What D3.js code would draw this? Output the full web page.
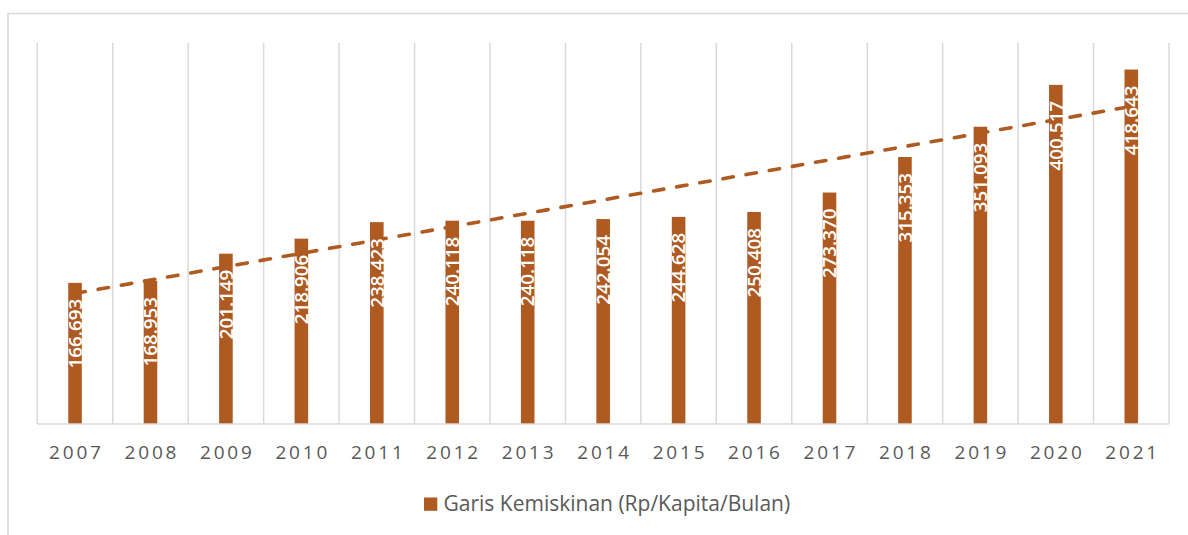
<!DOCTYPE html>
<html>
<head>
<meta charset="utf-8">
<script src="https://cdn.jsdelivr.net/npm/d3@7"></script>
<style>
  html, body { margin: 0; padding: 0; background: #fff; }
  svg { display: block; }
</style>
</head>
<body>
<svg id="chart" width="1188" height="535"></svg>
<script>
const years = ["2007","2008","2009","2010","2011","2012","2013","2014","2015","2016","2017","2018","2019","2020","2021"];
const values = [166.693, 168.953, 201.149, 218.906, 238.423, 240.118, 240.118, 242.054, 244.628, 250.408, 273.370, 315.353, 351.093, 400.517, 418.643];
const valueLabels = ["166.693","168.953","201.149","218.906","238.423","240.118","240.118","242.054","244.628","250.408","273.370","315.353","351.093","400.517","418.643"];
const seriesName = "Garis Kemiskinan (Rp/Kapita/Bulan)";
const yDomain = [0, 450];

const W = 1188, H = 535;
const barColor = "#ae5a21";
const gridColor = "#d9d9d9";
const textColor = "#595959";
const plot = { left: 37.3, right: 1169, top: 43, bottom: 424 };

const svg = d3.select("#chart");

// outer chart frame (extends past the picture at right and bottom)
svg.append("path")
  .attr("d", `M8,${H + 5} L8,13.5 L${W + 5},13.5`)
  .attr("fill", "none")
  .attr("stroke", gridColor)
  .attr("stroke-width", 1.6);

const xCat = d3.scaleBand().domain(years).range([plot.left, plot.right]).padding(0);
const x = d3.scaleBand().domain(years).range([plot.left, plot.right])
  .paddingInner(0.82).paddingOuter(0.41);
const y = d3.scaleLinear().domain(yDomain).range([plot.bottom, plot.top]);

// vertical gridlines at category boundaries
const bounds = years.map(d => xCat(d)).concat([plot.right]);
svg.append("g").selectAll("line").data(bounds).join("line")
  .attr("x1", d => d).attr("x2", d => d)
  .attr("y1", plot.top).attr("y2", plot.bottom)
  .attr("stroke", gridColor).attr("stroke-width", 1.5);

// bars
svg.append("g").selectAll("rect").data(values).join("rect")
  .attr("x", (d, i) => x(years[i]))
  .attr("y", d => y(d))
  .attr("width", x.bandwidth())
  .attr("height", d => y(0) - y(d))
  .attr("fill", barColor);

// linear trendline (least squares over category index)
const n = values.length;
const idx = d3.range(n);
const mx = d3.mean(idx), my = d3.mean(values);
const slope = d3.sum(idx, i => (i - mx) * (values[i] - my)) / d3.sum(idx, i => (i - mx) * (i - mx));
const icpt = my - slope * mx;
const cx = i => x(years[i]) + x.bandwidth() / 2;
svg.append("line")
  .attr("x1", cx(0)).attr("y1", y(icpt))
  .attr("x2", cx(n - 1)).attr("y2", y(icpt + slope * (n - 1)))
  .attr("stroke", barColor)
  .attr("stroke-width", 3.6)
  .attr("stroke-linecap", "round")
  .attr("stroke-dasharray", "10.5,13");

// data labels (rotated, inside end)
svg.append("g").selectAll("text").data(values).join("text")
  .attr("transform", (d, i) => `translate(${cx(i)},${y(d) + 16}) rotate(-90)`)
  .attr("text-anchor", "end")
  .attr("dy", "0.36em")
  .attr("fill", "#ffffff")
  .attr("font-family", "'Open Sans', sans-serif")
  .attr("font-weight", 600)
  .attr("font-size", "18.8px")
  .text((d, i) => valueLabels[i]);

// x axis
const axis = svg.append("g")
  .attr("transform", `translate(0,${plot.bottom})`)
  .call(d3.axisBottom(xCat).tickSize(0).tickPadding(0));
axis.select(".domain")
  .attr("d", `M${plot.left},0H${plot.right}`)
  .attr("stroke", gridColor).attr("stroke-width", 1.6);
axis.selectAll(".tick text")
  .attr("y", 35)
  .attr("dy", 0)
  .attr("dx", 1.4)
  .attr("fill", textColor)
  .attr("font-family", "'Open Sans', sans-serif")
  .attr("font-size", "19px")
  .attr("letter-spacing", "2.8px");

// legend
const lg = svg.append("g");
lg.append("rect")
  .attr("x", 424).attr("y", 497.5)
  .attr("width", 13.3).attr("height", 13.3)
  .attr("fill", barColor);
lg.append("text")
  .attr("x", 443.5).attr("y", 511)
  .attr("fill", textColor)
  .attr("font-family", "'Open Sans', sans-serif")
  .attr("font-size", "21px")
  .text(seriesName);
</script>
</body>
</html>
